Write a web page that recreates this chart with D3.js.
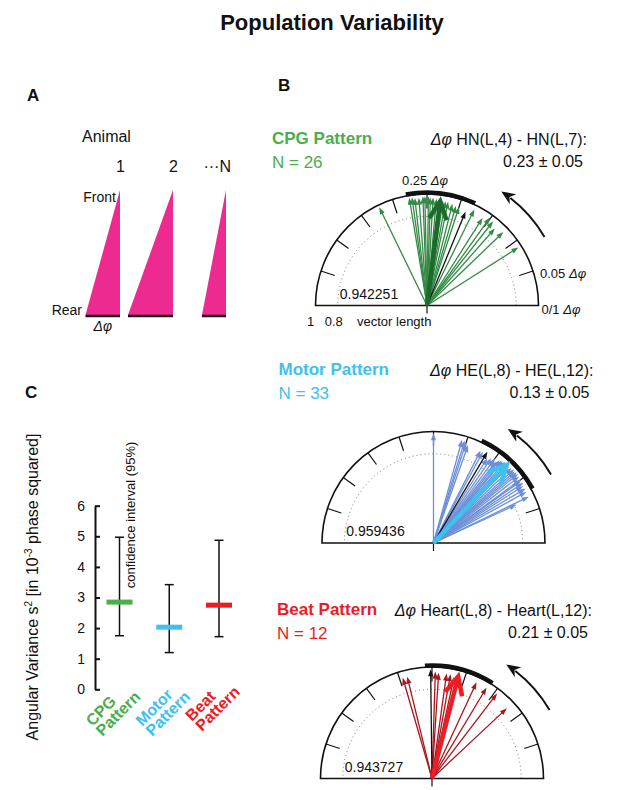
<!DOCTYPE html>
<html lang="en">
<head>
<meta charset="UTF-8">
<title>Population Variability</title>
<script src="https://d3js.org/d3.v7.min.js"></script>
<style>
    body { margin: 0; background: #fff; }
    text { font-family: "Liberation Sans", Arial, Helvetica, sans-serif; fill: #111; }
</style>
</head>
<body>
<svg id="fig" width="617" height="790"></svg>
<script>

    // ---- data ----
    // panel A: schematic phase lag of three animals
    const animals = ["1", "2", "N"];
    const animalLag = [0.23, 0.30, 0.16];

    // panel B: one compass per pattern
    const patternNames = ["CPG Pattern", "Motor Pattern", "Beat Pattern"];
    const patternN = [26, 33, 12];
    const segmentPairs = ["HN(L,4) - HN(L,7):", "HE(L,8) - HE(L,12):", "Heart(L,8) - Heart(L,12):"];
    const meanPhase = [0.23, 0.13, 0.21];
    const sdPhase = [0.05, 0.05, 0.05];
    const meanLength = [0.942251, 0.959436, 0.943727];
    const highlight = [18, 7, 2];   // the black arrow in each compass

    const cpgPhase = [0.322, 0.276, 0.272, 0.268, 0.262, 0.256, 0.253, 0.248, 0.245, 0.241, 0.236, 0.232, 0.226,
        0.222, 0.218, 0.211, 0.205, 0.200, 0.188, 0.177, 0.160, 0.151, 0.144, 0.135, 0.122, 0.090];
    const cpgLength = [0.98, 0.98, 0.98, 0.97, 0.97, 0.98, 0.98, 0.98, 0.97, 0.97, 0.96, 0.96, 0.95,
        0.95, 0.95, 0.94, 0.93, 0.93, 0.91, 0.96, 0.93, 0.97, 0.96, 0.92, 0.95, 0.97];

    const motorPhase = [0.250, 0.207, 0.203, 0.200, 0.196, 0.175, 0.171, 0.165, 0.160, 0.155, 0.150, 0.146, 0.143,
        0.140, 0.138, 0.135, 0.132, 0.128, 0.126, 0.122, 0.118, 0.115, 0.112, 0.109, 0.105, 0.100, 0.098,
        0.094, 0.090, 0.085, 0.080, 0.072, 0.069];
    const motorLength = [0.985, 0.96, 0.96, 0.95, 0.93, 0.93, 0.93, 0.95, 0.90, 0.92, 0.94, 0.92, 0.95,
        0.96, 0.96, 0.97, 0.98, 0.97, 0.96, 0.97, 0.98, 0.97, 0.98, 0.98, 0.97, 0.97, 0.96,
        0.97, 0.95, 0.96, 0.95, 0.95, 0.82];

    const beatPhase = [0.295, 0.288, 0.252, 0.245, 0.240, 0.228, 0.222, 0.216, 0.181, 0.164, 0.146, 0.120];
    const beatLength = [0.94, 0.94, 0.98, 0.96, 0.95, 0.95, 0.95, 0.93, 0.95, 0.95, 0.96, 0.92];

    // panel C: angular variance with 95% confidence interval
    const varCategories = ["CPG", "Motor", "Beat"];
    const variance = [2.85, 2.03, 2.75];
    const ciLow = [1.75, 1.20, 1.72];
    const ciHigh = [4.97, 3.42, 4.87];
    const varTicks = [0, 1, 2, 3, 4, 5, 6];

    // ---- styling ----
    const headColor = ["#4aae4b", "#41c0ee", "#ec1c24"];
    const thinColor = ["#348b46", "#6d8fd8", "#a8161e"];
    const meanColor = ["#1c6a2c", "#3dc1ef", "#ee1c25"];
    const magenta = "#ec2a90";

    const svg = d3.select("#fig");

    svg.append("text")
        .attr("x", 332).attr("y", 30)
        .attr("text-anchor", "middle")
        .style("font-size", "22px").style("font-weight", "bold")
        .text("Population Variability");

    [["A", 27, 101], ["B", 278, 91], ["C", 25, 398]].forEach(d => {
        svg.append("text").attr("x", d[1]).attr("y", d[2])
            .style("font-size", "17px").style("font-weight", "bold").text(d[0]);
    });

    // ================= Panel A =================
    const gA = svg.append("g");
    const right = d3.scalePoint().domain(animals).range([120, 226]);
    const lagPx = d3.scaleLinear().domain([0, 1]).range([0, 150]);
    const yA = d3.scaleLinear().domain([0, 1]).range([315, 190]);   // rear -> front

    gA.append("text").attr("x", 82).attr("y", 142).style("font-size", "16px").text("Animal");
    gA.append("text").attr("x", 116).attr("y", yA(1) + 12).attr("text-anchor", "end")
        .style("font-size", "14px").text("Front");
    gA.append("text").attr("x", 82).attr("y", yA(0)).attr("text-anchor", "end")
        .style("font-size", "14px").text("Rear");

    gA.selectAll("path.tri")
        .data(animals)
        .join("path")
        .attr("fill", magenta)
        .attr("d", (d, i) => {
            const x1 = right(d), x0 = x1 - lagPx(animalLag[i]);
            return `M${x0},${yA(0)}L${x1},${yA(0)}L${x1},${yA(1)}Z`;
        });

    gA.selectAll("line.base")
        .data(animals)
        .join("line")
        .attr("x1", (d, i) => right(d) - lagPx(animalLag[i]))
        .attr("x2", d => right(d))
        .attr("y1", yA(0) + 1).attr("y2", yA(0) + 1)
        .attr("stroke", "#111").attr("stroke-width", 2.5);

    gA.selectAll("text.num")
        .data(animals)
        .join("text")
        .attr("x", d => right(d) + 5)
        .attr("y", 172)
        .attr("text-anchor", "end")
        .style("font-size", "16px")
        .text(d => d === "N" ? "\u00b7\u00b7\u00b7N" : d);

    gA.append("text")
        .attr("x", right(animals[0]) - lagPx(animalLag[0]) / 2)
        .attr("y", 331)
        .attr("text-anchor", "middle")
        .style("font-size", "14px").style("font-style", "italic")
        .text("\u0394\u03c6");

    // ================= Panel B =================
    const compassLayout = [
        {cx: 427, cy: 305.5, top: 144},
        {cx: 433.5, cy: 543, top: 375},
        {cx: 432, cy: 778.5, top: 615}
    ];
    const R = 111.5;
    const ang = d3.scaleLinear().domain([0, 0.5]).range([0, Math.PI]);
    const rad = d3.scaleLinear().domain([0, 1]).range([0, R]);

    function drawCompass(k, phases, lengths) {
        const {cx, cy, top} = compassLayout[k];
        const g = svg.append("g");
        const pt = (p, r) => [cx + rad(r) * Math.cos(ang(p)), cy - rad(r) * Math.sin(ang(p))];

        // header texts
        g.append("text").attr("x", cx - 155).attr("y", top)
            .style("fill", headColor[k])
            .style("font-size", "17px").style("font-weight", "bold")
            .text(patternNames[k]);
        g.append("text").attr("x", cx - 155).attr("y", top + 24)
            .style("fill", headColor[k]).style("font-size", "17px")
            .text("N = " + patternN[k]);
        const t = g.append("text").attr("x", cx + 160).attr("y", top + 1)
            .attr("text-anchor", "end").style("font-size", "16px");
        t.append("tspan").style("font-style", "italic").text("\u0394\u03c6");
        t.append("tspan").text(" " + segmentPairs[k]);
        g.append("text").attr("x", cx + 156).attr("y", top + 23)
            .attr("text-anchor", "end").style("font-size", "16px")
            .text(meanPhase[k].toFixed(2) + " \u00b1 " + sdPhase[k].toFixed(2));

        // dotted 0.8 circle
        const dotted = d3.path();
        dotted.moveTo(...pt(0, 0.8));
        dotted.arc(cx, cy, rad(0.8), 0, -Math.PI, true);
        g.append("path").attr("d", dotted.toString())
            .attr("fill", "none").attr("stroke", "#777").attr("stroke-width", 1)
            .attr("stroke-dasharray", "1,3");

        // outer semicircle and baseline
        const outer = d3.path();
        outer.moveTo(...pt(0, 1));
        outer.arc(cx, cy, rad(1), 0, -Math.PI, true);
        outer.closePath();
        g.append("path").attr("d", outer.toString())
            .attr("fill", "none").attr("stroke", "#111").attr("stroke-width", 1.6);
        g.append("line").attr("x1", cx).attr("x2", cx).attr("y1", cy).attr("y2", cy + 8)
            .attr("stroke", "#111").attr("stroke-width", 1.2);

        // phase ticks every 0.05
        const ticks = ang.ticks(10).filter(p => p > 0.001 && p < 0.499);
        g.selectAll("line.tick")
            .data(ticks)
            .join("line")
            .attr("x1", p => pt(p, 0.87)[0]).attr("y1", p => pt(p, 0.87)[1])
            .attr("x2", p => pt(p, 1)[0]).attr("y2", p => pt(p, 1)[1])
            .attr("stroke", "#111").attr("stroke-width", 1.2);

        // mean +- sd arc
        const sd = d3.path();
        const r0 = rad(1) + 1.5;
        sd.moveTo(cx + r0 * Math.cos(ang(meanPhase[k] - sdPhase[k])), cy - r0 * Math.sin(ang(meanPhase[k] - sdPhase[k])));
        sd.arc(cx, cy, r0, -ang(meanPhase[k] - sdPhase[k]), -ang(meanPhase[k] + sdPhase[k]), true);
        g.append("path").attr("d", sd.toString())
            .attr("fill", "none").attr("stroke", "#111").attr("stroke-width", 4.5);

        // rotating direction arrow outside
        const rr = rad(1.22);
        const a0 = ang(0.084), a1 = ang(0.145), aTip = ang(0.158);
        const rot = d3.path();
        rot.moveTo(cx + rr * Math.cos(a0), cy - rr * Math.sin(a0));
        rot.arc(cx, cy, rr, -a0, -a1, true);
        g.append("path").attr("d", rot.toString())
            .attr("fill", "none").attr("stroke", "#111").attr("stroke-width", 2);
        {
            const tx = cx + rr * Math.cos(aTip), ty = cy - rr * Math.sin(aTip);
            const ux = -Math.sin(aTip), uy = -Math.cos(aTip);  // ccw tangent (svg coords)
            const nx = -uy, ny = ux;
            const L = 14, W = 6;
            const bx = tx - ux * L, by = ty - uy * L;
            const pts = [[tx, ty], [bx + nx * W, by + ny * W], [tx - ux * L * 0.7, ty - uy * L * 0.7], [bx - nx * W, by - ny * W]];
            g.append("polygon").attr("points", pts.map(p => p.join(",")).join(" ")).attr("fill", "#111");
        }

        // individual animals
        const items = phases.map((p, i) => ({p: p, r: lengths[i], black: i === highlight[k]}));
        items.sort((a, b) => a.black - b.black);
        const HL = 7, HW = 2.6;
        const arrows = g.selectAll("g.arrow").data(items).join("g");
        arrows.append("line")
            .attr("x1", cx).attr("y1", cy)
            .attr("x2", d => pt(d.p, d.r - HL / R * 0.8)[0])
            .attr("y2", d => pt(d.p, d.r - HL / R * 0.8)[1])
            .attr("stroke", d => d.black ? "#111" : thinColor[k])
            .attr("stroke-width", 1.3);
        arrows.append("polygon")
            .attr("points", d => {
                const a = ang(d.p);
                const [x, y] = pt(d.p, d.r);
                const ux = Math.cos(a), uy = -Math.sin(a), nx = -uy, ny = ux;
                const bx = x - ux * HL, by = y - uy * HL;
                return [[x, y], [bx + nx * HW, by + ny * HW], [bx - nx * HW, by - ny * HW]]
                    .map(q => q.join(",")).join(" ");
            })
            .attr("fill", d => d.black ? "#111" : thinColor[k]);

        // mean vector
        const am = ang(meanPhase[k]);
        const [mx, my] = pt(meanPhase[k], meanLength[k]);
        g.append("line").attr("x1", cx).attr("y1", cy).attr("x2", mx).attr("y2", my)
            .attr("stroke", meanColor[k]).attr("stroke-width", 4.5);
        const wing = 20, spread = 0.45;
        const back = am + Math.PI;
        const w1 = [mx + wing * Math.cos(back - spread), my - wing * Math.sin(back - spread)];
        const w2 = [mx + wing * Math.cos(back + spread), my - wing * Math.sin(back + spread)];
        g.append("polyline").attr("points", [w1, [mx, my], w2].map(q => q.join(",")).join(" "))
            .attr("fill", "none").attr("stroke", meanColor[k]).attr("stroke-width", 4.5)
            .attr("stroke-linejoin", "miter");

        // mean vector length
        g.append("text").attr("x", cx - rad(0.8) + 2).attr("y", cy - 7)
            .style("font-size", "14px").text(meanLength[k].toFixed(6));

        return {g, pt, cx, cy};
    }

    const cpg = drawCompass(0, cpgPhase, cpgLength);
    drawCompass(1, motorPhase, motorLength);
    drawCompass(2, beatPhase, beatLength);

    // scale labels only on the CPG compass
    {
        const {g, pt, cx, cy} = cpg;
        const lab = (x, y, anchor, num) => {
            const t = g.append("text").attr("x", x).attr("y", y).attr("text-anchor", anchor)
                .style("font-size", "13px");
            t.append("tspan").text(num + " ");
            t.append("tspan").style("font-style", "italic").text("\u0394\u03c6");
        };
        lab(pt(0.25, 1)[0] - 2, pt(0.25, 1)[1] - 9, "middle", "0.25");
        lab(pt(0.05, 1)[0] + 7, pt(0.05, 1)[1] + 7, "start", "0.05");
        lab(cx + rad(1) + 3, cy + 8, "start", "0/1");
        g.append("text").attr("x", cx - rad(1) - 5).attr("y", cy + 20).attr("text-anchor", "middle")
            .style("font-size", "13px").text("1");
        g.append("text").attr("x", cx - rad(0.8) - 4).attr("y", cy + 20).attr("text-anchor", "middle")
            .style("font-size", "13px").text("0.8");
        g.append("text").attr("x", cx - 70).attr("y", cy + 20)
            .style("font-size", "13px").text("vector length");
    }

    // ================= Panel C =================
    const gC = svg.append("g");
    const yC = d3.scaleLinear().domain([0, 6]).range([689.3, 505.7]);
    const xC = d3.scalePoint().domain(varCategories).range([119.5, 219]);

    const axis = gC.append("g")
        .attr("transform", "translate(95,0)")
        .call(d3.axisLeft(yC).tickValues(varTicks).tickFormat(d3.format("d"))
            .tickSizeInner(-5).tickSizeOuter(0).tickPadding(10));
    axis.select(".domain").attr("stroke", "#111").attr("stroke-width", 2);
    axis.selectAll(".tick line").attr("stroke", "#111").attr("stroke-width", 2);
    axis.selectAll(".tick text")
        .style("font-size", "14px")
        .style("font-family", '"Liberation Sans", Arial, sans-serif')
        .attr("fill", "#111");

    // error bars
    gC.selectAll("line.ci")
        .data(varCategories)
        .join("line")
        .attr("x1", d => xC(d)).attr("x2", d => xC(d))
        .attr("y1", (d, i) => yC(ciLow[i])).attr("y2", (d, i) => yC(ciHigh[i]))
        .attr("stroke", "#111").attr("stroke-width", 1.5);
    [ciLow, ciHigh].forEach(arr => {
        gC.selectAll(null)
            .data(varCategories)
            .join("line")
            .attr("x1", d => xC(d) - 4.5).attr("x2", d => xC(d) + 4.5)
            .attr("y1", (d, i) => yC(arr[i])).attr("y2", (d, i) => yC(arr[i]))
            .attr("stroke", "#111").attr("stroke-width", 1.5);
    });

    // variance bars
    gC.selectAll("rect.var")
        .data(varCategories)
        .join("rect")
        .attr("x", d => xC(d) - 13)
        .attr("width", 26)
        .attr("y", (d, i) => yC(variance[i]) - 2.5)
        .attr("height", 5)
        .attr("fill", (d, i) => headColor[i]);

    // category labels
    gC.selectAll("text.cat")
        .data(varCategories)
        .join("text")
        .attr("transform", (d, i) => `translate(${xC(d) - 27},${i === 2 ? 722 : 727}) rotate(-45)`)
        .style("font-size", "16px").style("font-weight", "bold")
        .style("fill", (d, i) => headColor[i])
        .each(function (d) {
            const t = d3.select(this);
            t.append("tspan").attr("x", 0).attr("dy", 0).text(d);
            t.append("tspan").attr("x", 0).attr("dy", 14).text("Pattern");
        });

    gC.append("text")
        .attr("transform", `translate(135,${yC(3.3)}) rotate(-90)`)
        .style("font-size", "13px")
        .text("confidence interval (95%)");

    const yl = gC.append("text")
        .attr("transform", "translate(38,587) rotate(-90)")
        .attr("text-anchor", "middle")
        .style("font-size", "16px");
    yl.append("tspan").text("Angular Variance s");
    yl.append("tspan").attr("dy", -6).style("font-size", "10px").text("2");
    yl.append("tspan").attr("dy", 6).text(" [in 10");
    yl.append("tspan").attr("dy", -6).style("font-size", "10px").text("-3");
    yl.append("tspan").attr("dy", 6).text(" phase squared]");

</script>
</body>
</html>
